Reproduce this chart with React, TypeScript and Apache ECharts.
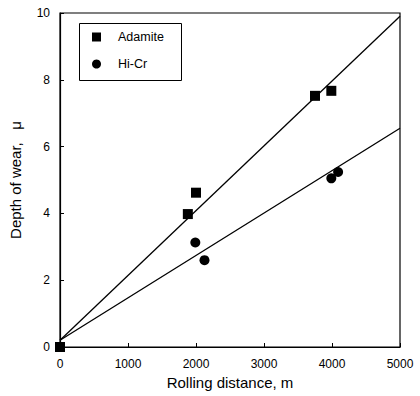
import React, { useEffect, useRef } from "react";
import * as echarts from "echarts";

const adamiteX = [0, 1880, 2000, 3750, 3990];
const adamiteY = [0, 3.98, 4.62, 7.52, 7.67];
const hiCrX = [1990, 2125, 3990, 4090];
const hiCrY = [3.13, 2.6, 5.05, 5.24];
const adamiteFitX = [0, 5000];
const adamiteFitY = [0.2, 9.9];
const hiCrFitX = [0, 5000];
const hiCrFitY = [0.2, 6.55];

const FONT = "Liberation Sans, Arial, sans-serif";
const INK = "#000";

const zip = (xs: number[], ys: number[]) => xs.map((x, i) => [x, ys[i]]);

export default function App() {
  const ref = useRef<HTMLDivElement>(null);
  useEffect(() => {
    if (!ref.current) return;
    const chart = echarts.init(ref.current, null, { renderer: "svg" });
    chart.setOption({
      animation: false,
      backgroundColor: "#fff",
      textStyle: { fontFamily: FONT, color: INK },
      grid: {
        left: 60,
        right: 20,
        top: 13,
        bottom: 49,
        show: true,
        borderColor: INK,
        borderWidth: 1.2,
        backgroundColor: "transparent",
      },
      graphic: [
        {
          type: "rect",
          shape: { x: 79.5, y: 23.5, width: 102, height: 57 },
          style: { fill: "#fff", stroke: INK, lineWidth: 1 },
          z: 5,
        },
      ],
      legend: {
        data: ["Adamite", "Hi-Cr"],
        orient: "vertical",
        left: 79,
        top: 23,
        z: 10,
        padding: [7, 16, 9, 13],
        itemWidth: 9,
        itemHeight: 9,
        itemGap: 13,
        textStyle: {
          fontFamily: FONT,
          fontSize: 12.5,
          color: INK,
          lineHeight: 14,
          padding: [0, 0, 0, 12],
        },
      },
      xAxis: {
        type: "value",
        min: 0,
        max: 5000,
        interval: 1000,
        name: "Rolling distance, m",
        nameLocation: "middle",
        nameGap: 28,
        nameTextStyle: { fontFamily: FONT, fontSize: 15, color: INK },
        axisLine: { show: true, lineStyle: { color: INK, width: 1.2 } },
        axisTick: { show: true, inside: true, length: 4, lineStyle: { color: INK } },
        axisLabel: {
          fontFamily: FONT,
          fontSize: 12,
          color: INK,
          margin: 11,
          formatter: (v: number) => String(v),
        },
        splitLine: { show: false },
      },
      yAxis: {
        type: "value",
        min: 0,
        max: 10,
        interval: 2,
        name: "Depth of wear,   \u03bc",
        nameLocation: "middle",
        nameGap: 37,
        nameTextStyle: { fontFamily: FONT, fontSize: 15, color: INK },
        axisLine: { show: true, lineStyle: { color: INK, width: 1.2 } },
        axisTick: { show: true, inside: true, length: 4, lineStyle: { color: INK } },
        axisLabel: { fontFamily: FONT, fontSize: 12, color: INK, margin: 10 },
        splitLine: { show: false },
      },
      series: [
        {
          name: "Adamite fit",
          type: "line",
          data: zip(adamiteFitX, adamiteFitY),
          symbol: "none",
          lineStyle: { color: INK, width: 1.3 },
          z: 2,
        },
        {
          name: "Hi-Cr fit",
          type: "line",
          data: zip(hiCrFitX, hiCrFitY),
          symbol: "none",
          lineStyle: { color: INK, width: 1.3 },
          z: 2,
        },
        {
          name: "Adamite",
          type: "scatter",
          data: zip(adamiteX, adamiteY),
          symbol: "rect",
          symbolSize: 10,
          itemStyle: { color: INK, opacity: 1 },
          z: 3,
        },
        {
          name: "Hi-Cr",
          type: "scatter",
          data: zip(hiCrX, hiCrY),
          symbol: "circle",
          symbolSize: 10,
          itemStyle: { color: INK, opacity: 1 },
          z: 3,
        },
      ],
    });
    return () => chart.dispose();
  }, []);
  return (
    <div
      ref={ref}
      style={{ position: "fixed", left: 0, top: 0, width: 420, height: 396 }}
    />
  );
}
